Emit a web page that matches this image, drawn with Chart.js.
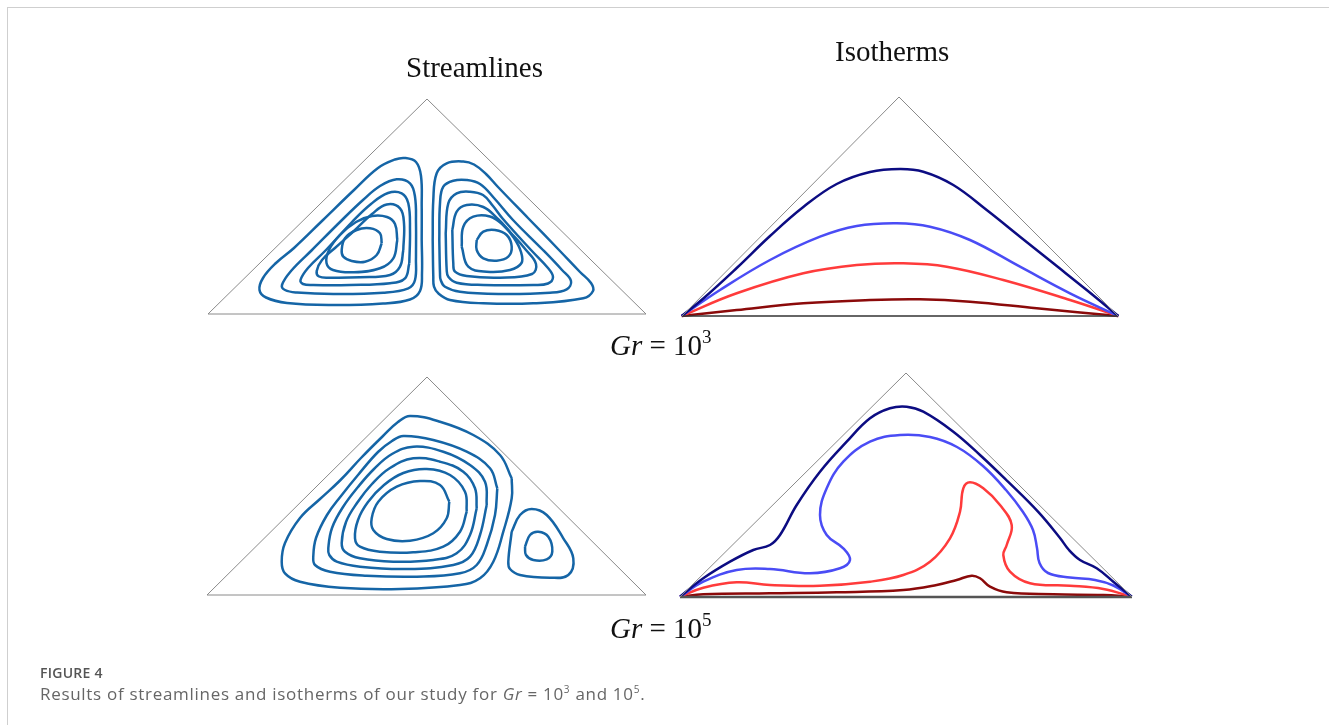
<!DOCTYPE html>
<html>
<head>
<meta charset="utf-8">
<script src="https://cdn.jsdelivr.net/npm/chart.js@4/dist/chart.umd.min.js"></script>
<style>
  html, body { margin: 0; padding: 0; background: #fff; }
  #wrap { position: relative; width: 1329px; height: 725px; overflow: hidden; }
  #frameTop { position: absolute; left: 7px; top: 7px; width: 1322px; height: 1px; background: #cfcfcf; }
  #frameLeft { position: absolute; left: 7px; top: 7px; width: 1px; height: 718px; background: #cfcfcf; }
  canvas { position: absolute; left: 0; top: 0; }
  .ttl { position: absolute; font-family: "Liberation Serif", "Times New Roman", serif; font-size: 29px; line-height: 29px; color: #111; white-space: nowrap; }
  .ttl i { font-style: italic; }
  .ttl .sp { position: relative; top: -12px; font-size: 19px; }
  .cap1 { position: absolute; left: 40px; top: 663px; font-family: "Open Sans", sans-serif; font-size: 14px; font-weight: 600; letter-spacing: 0.25px; color: #555; }
  .cap2 { position: absolute; left: 40px; top: 682px; font-family: "Open Sans", sans-serif; font-size: 17px; letter-spacing: 0.7px; color: #666; white-space: nowrap; }
  .cap2 sup { font-size: 10px; }
</style>
</head>
<body>
<div id="wrap">
  <div id="frameTop"></div>
  <div id="frameLeft"></div>
  <canvas id="fig" width="1329" height="725"></canvas>
  <div class="ttl" style="left:406px; top:53px;">Streamlines</div>
  <div class="ttl" style="left:835px; top:37px;">Isotherms</div>
  <div class="ttl" style="left:610px; top:331px;"><i>Gr</i> = 10<span class="sp">3</span></div>
  <div class="ttl" style="left:610px; top:614px;"><i>Gr</i> = 10<span class="sp">5</span></div>
  <div class="cap1">FIGURE 4</div>
  <div class="cap2">Results of streamlines and isotherms of our study for <i>Gr</i> = 10<sup>3</sup> and 10<sup>5</sup>.</div>
</div>
<script>

// domain outlines
const triTopLeft  = [[208, 314], [427, 99], [646, 314], [208, 314]];
const triTopRight = [[682, 316], [899, 97], [1118, 316]];
const baseTopRight = [[682, 316], [1118, 316]];
const triBotLeft  = [[207, 595], [427, 377], [646, 595], [207, 595]];
const triBotRight = [[680, 597], [906, 373], [1132, 597]];
const baseBotRight = [[680, 597], [1132, 597]];

// Gr = 1e3 streamlines, left cell (outer -> inner)
const sTL1 = [[421.7, 240], [422, 273], [420, 291], [410, 299.5], [383, 303.5], [333, 305], [287, 303], [266, 297.5], [259.5, 290], [263, 278], [276, 263], [294, 248], [323, 220], [354, 190], [378, 168], [395, 159.5], [405, 158], [416, 162], [421, 176], [421.7, 206], [421.7, 240]];
const sTL2 = [[416, 256.7], [415, 280], [408.3, 288.3], [383.3, 292.7], [333.3, 294], [297, 292.5], [285, 290], [282, 285], [291, 271], [312, 250], [342, 220], [363, 200], [380, 186], [396.7, 179.3], [410, 183.3], [415, 196.7], [416, 223.3], [416, 256.7]];
const sTL3 = [[409.3, 263.3], [405, 278.3], [390, 283.3], [350, 285], [313.3, 285], [303, 284], [300.5, 280], [308, 268], [326, 250], [352, 222], [371, 204], [388, 193], [401.7, 193.3], [408.3, 203.3], [410, 230], [409.3, 263.3]];
const sTL4 = [[403.3, 250], [400, 266.7], [390, 275], [360, 277.3], [330, 277.7], [319, 276.5], [316.7, 271], [322, 260], [335, 248], [355, 230], [372, 214], [386.7, 204.5], [400, 208.3], [404, 223.3], [403.3, 250]];
const sTL5 = [[397.3, 240], [393.3, 258.3], [380, 268.3], [353.3, 272.3], [333, 270], [326.5, 263], [329, 250], [340, 235], [356, 222], [372, 216], [387, 217], [395, 224], [397.3, 240]];
const sTL6 = [[381.7, 243.3], [376.7, 255], [365, 261.7], [351.7, 261], [343.3, 256.7], [341.7, 250], [345, 238.3], [356.7, 230], [370, 228.3], [380, 233.3], [381.7, 243.3]];

// Gr = 1e3 streamlines, right cell (outer -> inner)
const sTR1 = [[432.7, 240], [433.3, 200], [436.7, 173.3], [446.7, 163.3], [463.3, 161.5], [474, 164.5], [486, 174], [498, 187], [528, 218], [559, 250], [580, 272], [591, 283], [593, 291], [583.3, 298.3], [533.3, 303.3], [483.3, 303.3], [450, 300], [438.3, 293.3], [434, 286.7], [433.3, 276.7], [432.7, 240]];
const sTR2 = [[439.3, 240], [440, 203.3], [443.3, 186.7], [453.3, 180.7], [466.7, 180], [480, 184], [494, 198], [513, 220], [543, 250], [562, 270], [571, 281], [566.7, 289.3], [550, 292.7], [500, 294], [460, 291.7], [445, 286.7], [440.7, 280], [440, 273.3], [439.3, 240]];
const sTR3 = [[445.7, 233.3], [448.3, 203.3], [456.7, 193.3], [470, 191.7], [483, 195], [493, 206], [503, 219], [531, 250], [548, 268], [553, 277], [548, 283.5], [533.3, 285], [483.3, 285], [456.7, 282.7], [448.3, 276.7], [446.7, 270], [445.7, 233.3]];
const sTR4 = [[452.3, 230], [456.7, 211.7], [466.7, 205], [483.3, 207], [498, 219], [511, 233], [526, 250], [536, 264], [532, 274], [500, 277.7], [466.7, 276], [455, 271.7], [453.3, 263.3], [452.3, 230]];
const sTR5 = [[461.7, 246.7], [463.3, 226.7], [473.3, 216.7], [490, 216.5], [503, 225], [514, 238], [521, 252], [521.5, 263], [510, 270], [486.7, 271.7], [468.3, 266.7], [461.7, 246.7]];
const sTR6 = [[476.7, 240], [483.3, 231.7], [495, 230], [506.7, 235], [511.7, 246.7], [508.3, 256.7], [496.7, 260.7], [483.3, 258.3], [476.7, 250], [476.7, 240]];

// Gr = 1e3 isotherms
const iTNavy = [[681.7, 316], [703.3, 298.5], [736.7, 268], [770, 236], [803.3, 207], [836.7, 184], [870, 172], [900, 169], [923.3, 171.7], [953.3, 185], [986.7, 210], [1020, 236.7], [1053.3, 263.3], [1086.7, 290], [1118.3, 316]];
const iTBlue = [[681.7, 316], [720, 290], [770, 260], [820, 236.7], [856.7, 226], [896.7, 223.3], [930, 226.7], [970, 240], [1020, 266.7], [1070, 293.3], [1118.3, 316]];
const iTRed = [[681.7, 316], [736.7, 293.3], [803.3, 273.3], [856.7, 265], [903.3, 263.3], [946.7, 266.7], [1003.3, 280], [1070, 300], [1118.3, 316]];
const iTDark = [[681.7, 316], [736.7, 310], [803.3, 303.3], [870, 300], [920, 299.3], [970, 301.7], [1036.7, 308.3], [1118.3, 316]];

// Gr = 1e5 streamlines, main cell (outer -> inner)
const sBL1 = [[511.7, 478.3], [511.7, 498.3], [503.3, 531.7], [493.3, 561.7], [480, 578.3], [460, 585], [400, 589], [340, 587.7], [300, 581.7], [285, 573.3], [281.7, 561.7], [285, 543], [300, 518], [320, 499], [340, 480.5], [361, 458], [383, 436], [398, 422], [410, 416], [440, 421.7], [473.3, 435], [500, 455], [511.7, 478.3]];
const sBL2 = [[497.3, 488.3], [495, 515], [486.7, 545], [476.7, 565], [460, 573.3], [416.7, 576.7], [366.7, 575.7], [330, 571.7], [315, 565], [313.3, 556], [316, 538], [327, 515], [341, 496], [358, 475], [378, 452], [392, 441], [403.3, 436], [433.3, 440], [466.7, 451.7], [490, 468.3], [497.3, 488.3]];
const sBL3 = [[486.7, 505], [480, 535], [470, 556.7], [453.3, 565], [406.7, 569], [360, 566.7], [336.7, 561.7], [329.3, 555], [328.3, 548], [332, 528], [343, 507], [358, 487], [374, 469], [392, 454], [413.3, 446.7], [443.3, 451.7], [470, 465], [485, 481.7], [486.7, 505]];
const sBL4 = [[476.7, 508.3], [470, 535], [456.7, 553.3], [433.3, 560], [393.3, 561.7], [360, 558.3], [345, 551.7], [341.7, 543], [346, 522], [357, 503], [372, 484], [390, 468], [413.3, 458.3], [440, 461.7], [463.3, 471.7], [475, 488.3], [476.7, 508.3]];
const sBL5 = [[466.7, 511.7], [460, 531.7], [443.3, 546.7], [413.3, 552.3], [380, 551.7], [360, 546.7], [355, 538.3], [358, 520], [368, 502], [384, 485], [403.3, 473], [426.7, 469], [450, 475], [465, 491.7], [466.7, 511.7]];
const sBL6 = [[449.3, 501.7], [446.7, 518.3], [433.3, 533.3], [410, 540.7], [386.7, 539], [373.3, 530], [371.7, 518.3], [378.3, 501.7], [396.7, 486.7], [420, 481], [440, 485], [449.3, 501.7]];
// Gr = 1e5 streamlines, small corner cell
const sBR1 = [[511.7, 531.7], [520, 515], [531.7, 509], [546.7, 515], [563.3, 538.3], [573.3, 558.3], [568.3, 575], [550, 577.7], [520, 575], [510, 569], [508.3, 561.7], [511.7, 531.7]];
const sBR2 = [[525, 546.7], [530, 535], [538.3, 531.7], [548.3, 536.7], [552.3, 551.7], [546.7, 559.3], [533.3, 560], [526, 555], [525, 546.7]];

// Gr = 1e5 isotherms
const iBNavy = [[680, 596.7], [703.3, 578.3], [730, 561.7], [753.3, 550], [770, 545], [780, 535], [796.7, 505], [820, 471.7], [846.7, 441.7], [870, 418.3], [890, 408.3], [906.7, 406.7], [923.3, 411.7], [953, 431.5], [980, 455], [1008, 481.7], [1038, 511.7], [1060, 538], [1069, 550], [1080, 560], [1096.7, 568.3], [1113.3, 581.7], [1131.7, 596.7]];
const iBBlue = [[680, 596.7], [703.3, 581.7], [736.7, 570], [770, 569], [810, 573.3], [840, 568.3], [850, 560], [843.3, 548.3], [826.7, 535], [820, 515], [826.7, 488.3], [843.3, 461.7], [870, 441.7], [900, 435], [930, 437], [957, 447], [983, 466], [1006, 490], [1023, 512], [1033, 530], [1037, 548], [1039.5, 563], [1048, 573], [1070, 577.5], [1095, 580], [1113.3, 585.5], [1131.7, 596.7]];
const iBRed = [[680, 596.7], [703.3, 587.7], [736.7, 582.3], [770, 585], [820, 585.7], [870, 581.7], [903.3, 575], [930, 561.7], [950, 538.3], [960, 511.7], [963.3, 488.3], [970, 482.3], [983.3, 488.3], [1000, 505], [1011.7, 525], [1006.7, 545], [1003.3, 555], [1010, 571.7], [1030, 583.3], [1070, 585.7], [1103.3, 589], [1131.7, 596.7]];
const iBDark = [[680, 596.7], [703.3, 594.3], [770, 593.3], [836.7, 592.3], [903.3, 590], [936.7, 585], [956.7, 580], [971.7, 575.7], [980, 578.3], [990, 586.7], [1006.7, 592.3], [1053.3, 594.3], [1103.3, 595], [1131.7, 596.7]];

const streamBlue = '#1565a6';
const navy = '#0c0c82';
const blue = '#4a4cf5';
const red = '#ff3b3b';
const darkRed = '#8b0a0a';

function pts(arr) { return arr.map(p => ({ x: p[0], y: p[1] })); }

function curve(arr, color, width, tension) {
    return {
        data: pts(arr),
        showLine: true,
        borderColor: color,
        borderWidth: width,
        pointRadius: 0,
        tension: tension,
        fill: false
    };
}

let datasets = [];
[triTopLeft, triTopRight, triBotLeft, triBotRight].forEach(t => datasets.push(curve(t, '#8a8a8a', 1, 0)));
datasets.push(curve(baseTopRight, '#333333', 1.5, 0));
datasets.push(curve(baseBotRight, '#555555', 2.5, 0));

[sTL1, sTL2, sTL3, sTL4, sTL5, sTL6, sTR1, sTR2, sTR3, sTR4, sTR5, sTR6,
 sBL1, sBL2, sBL3, sBL4, sBL5, sBL6, sBR1, sBR2].forEach(s => datasets.push(curve(s, streamBlue, 2.5, 0.4)));

datasets.push(curve(iTNavy, navy, 2.5, 0.4));
datasets.push(curve(iTBlue, blue, 2.5, 0.4));
datasets.push(curve(iTRed, red, 2.5, 0.4));
datasets.push(curve(iTDark, darkRed, 2.5, 0.4));
datasets.push(curve(iBNavy, navy, 2.5, 0.4));
datasets.push(curve(iBBlue, blue, 2.5, 0.4));
datasets.push(curve(iBRed, red, 2.5, 0.4));
datasets.push(curve(iBDark, darkRed, 2.5, 0.4));

new Chart(document.getElementById('fig').getContext('2d'), {
    type: 'scatter',
    data: { datasets: datasets },
    options: {
        responsive: false,
        animation: false,
        devicePixelRatio: 1,
        layout: { padding: 0 },
        plugins: { legend: { display: false }, tooltip: { enabled: false } },
        scales: {
            x: { type: 'linear', min: 0, max: 1329, display: false },
            y: { type: 'linear', min: 0, max: 725, reverse: true, display: false }
        }
    }
});
</script>
</body>
</html>
